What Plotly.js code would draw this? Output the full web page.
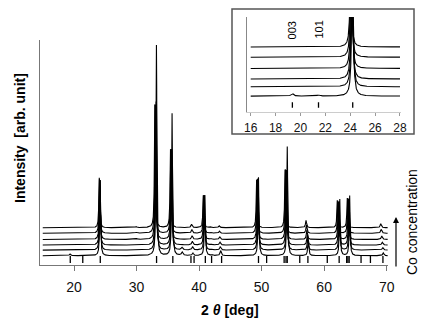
<!DOCTYPE html>
<html>
<head>
<meta charset="utf-8">
<script src="https://cdn.plot.ly/plotly-3.0.1.min.js"></script>
<style>html,body{margin:0;padding:0;background:#fff;}#chart{width:436px;height:327px;}</style>
</head>
<body>
<div id="chart"></div>
<script>
// ---- data ----
// reflection positions (2theta, deg) for the lowest-Co pattern
const peakPos = [19.35, 21.45, 24.18, 30.1, 33.18, 35.68, 37.3, 39.0, 40.92, 42.0, 43.45, 49.5, 54.1, 57.45, 62.5, 64.08, 69.45];
// peak half widths (deg)
const peakWidth = [0.12, 0.12, 0.08, 0.15, 0.08, 0.08, 0.15, 0.12, 0.08, 0.12, 0.12, 0.08, 0.08, 0.1, 0.08, 0.08, 0.12];
// peak shift of the highest-Co pattern relative to the lowest (deg)
const peakShiftTop = [-0.1, -0.1, -0.14, -0.15, -0.25, -0.25, -0.2, -0.2, -0.25, -0.2, -0.25, -0.3, -0.35, -0.35, -0.4, -0.38, -0.4];
// peak heights per pattern (bottom = lowest Co ... top = highest Co), arb. units
const heights0 = [0.3, 0.12, 13.5, 0.03, 37.6, 25.4, 0.6, 0.45, 10.8, 0.2, 0.9, 14.0, 19.5, 2.6, 10.1, 10.7, 0.5];
const heights1 = [0.08, 0.05, 12.5, 0.08, 26.5, 18.0, 0.45, 0.6, 9.8, 0.2, 0.6, 12.8, 14.2, 2.2, 8.7, 9.2, 0.45];
const heights2 = [0.05, 0.03, 11.5, 0.12, 25.0, 17.0, 0.12, 0.65, 8.8, 0.2, 0.5, 11.8, 13.4, 1.9, 7.7, 8.2, 0.5];
const heights3 = [0.04, 0.02, 10.5, 0.15, 24.0, 16.0, 0.08, 0.65, 7.8, 0.2, 0.45, 10.8, 12.4, 1.7, 6.7, 7.2, 0.6];
const heights4 = [0.03, 0.02, 9.7, 0.18, 23.0, 15.0, 0.05, 0.65, 6.8, 0.2, 0.4, 9.6, 11.4, 1.5, 5.8, 6.3, 0.7];
const heights5 = [0.03, 0.02, 8.9, 0.18, 22.0, 14.0, 0.05, 0.6, 5.8, 0.2, 0.35, 8.5, 10.4, 1.3, 4.9, 5.3, 0.7];
// fraction of the full shift for each pattern
const shiftFraction = [0, 0.2, 0.4, 0.6, 0.8, 1.0];
// vertical offsets of the stacked patterns
const mainOffsets = [0, 1.0, 1.9, 2.9, 4.0, 5.0];
const insetOffsets = [0, 1.04, 1.91, 3.08, 4.33, 5.47];
// reference reflection markers
const refTicks = [19.4, 21.4, 24.2, 33.2, 35.8, 38.7, 39.2, 41.0, 42.0, 43.6, 49.5, 50.8, 53.6, 53.9, 54.1, 56.1, 57.4, 60.5, 62.4, 63.6, 63.8, 64.0, 65.9, 67.4, 69.4];
const insetTicks = [19.35, 21.45, 24.2];
const mainTicks = [20, 30, 40, 50, 60, 70];
const insetTickVals = [16, 18, 20, 22, 24, 26, 28];
const insetLabels = ['003', '101'];
const insetLabelPos = [19.35, 21.45];

const heights = [heights0, heights1, heights2, heights3, heights4, heights5];

function pattern(k, x0, x1) {
  const xs = [], ys = [];
  for (let i = 0; x0 + i * 0.01 <= x1 + 1e-9; i++) {
    const x = x0 + i * 0.01;
    let y = 0;
    for (let j = 0; j < peakPos.length; j++) {
      const d = x - (peakPos[j] + peakShiftTop[j] * shiftFraction[k]);
      const g = peakWidth[j];
      y += heights[k][j] * g * g / (d * d + g * g);
    }
    xs.push(x); ys.push(y);
  }
  return [xs, ys];
}

const traces = [];
for (let k = 0; k < 6; k++) {
  const [xs, ys] = pattern(k, 15.0, 70.15);
  traces.push({x: xs, y: ys.map(v => v + mainOffsets[k]), type: 'scatter', mode: 'lines',
    line: {color: '#000', width: 1.1}, xaxis: 'x', yaxis: 'y', hoverinfo: 'skip'});
  const [xi, yi] = pattern(k, 16.0, 28.0);
  traces.push({x: xi, y: yi.map(v => v + insetOffsets[k]), type: 'scatter', mode: 'lines',
    line: {color: '#000', width: 1.1}, xaxis: 'x2', yaxis: 'y2', hoverinfo: 'skip'});
}
traces.push({x: refTicks, y: refTicks.map(() => -0.68), type: 'scatter', mode: 'markers',
  marker: {symbol: 'line-ns', size: 5, line: {color: '#000', width: 1.3}}, xaxis: 'x', yaxis: 'y', hoverinfo: 'skip'});
traces.push({x: insetTicks, y: insetTicks.map(() => -0.98), type: 'scatter', mode: 'markers',
  marker: {symbol: 'line-ns', size: 4, line: {color: '#000', width: 1.3}}, xaxis: 'x2', yaxis: 'y2', hoverinfo: 'skip'});

const font = '"Liberation Sans", Arial, sans-serif';
const px = v => (v - 40) / 386;
const py = v => (265 - v) / 260;

const annotations = [
  {text: '<b>Intensity  [arb. unit]</b>', xref: 'paper', yref: 'paper', x: px(20), y: py(138), textangle: -90,
   xanchor: 'center', yanchor: 'middle', showarrow: false, font: {family: font, size: 14, color: '#000'}},
  {text: '<b>2 <i>θ</i> [deg]</b>', xref: 'paper', yref: 'paper', x: px(230), y: py(310),
   xanchor: 'center', yanchor: 'middle', showarrow: false, font: {family: font, size: 14, color: '#000'}},
  {text: 'Co concentration', xref: 'paper', yref: 'paper', x: px(412), y: py(222), textangle: -90,
   xanchor: 'center', yanchor: 'middle', showarrow: false, font: {family: font, size: 14, color: '#000'}},
  {text: '', xref: 'paper', yref: 'paper', x: px(396), y: py(217), ax: 0, ay: 51,
   showarrow: true, arrowhead: 2, arrowsize: 1, arrowwidth: 1.2, arrowcolor: '#000'}
];
for (let i = 0; i < insetLabels.length; i++) {
  annotations.push({text: insetLabels[i], xref: 'x2', yref: 'paper', x: insetLabelPos[i], y: py(30), textangle: -90,
    xanchor: 'center', yanchor: 'middle', showarrow: false, font: {family: font, size: 11, color: '#000'}});
}

const layout = {
  width: 436, height: 327,
  margin: {l: 40, r: 10, t: 5, b: 62},
  paper_bgcolor: '#fff', plot_bgcolor: 'rgba(0,0,0,0)',
  showlegend: false,
  font: {family: font, color: '#000'},
  xaxis: {domain: [0, 0.90155], range: [14.56, 70.21], tickvals: mainTicks, showgrid: false, zeroline: false,
    showline: true, linecolor: '#777', linewidth: 1, ticks: 'outside', ticklen: 5, tickcolor: '#777',
    tickfont: {family: font, size: 14, color: '#111'}, ticklabelstandoff: 4, anchor: 'y'},
  yaxis: {domain: [0, 0.86538], range: [-1.66, 38.52], showgrid: false, zeroline: false, showticklabels: false,
    showline: true, linecolor: '#777', linewidth: 1, ticks: '', anchor: 'x'},
  xaxis2: {domain: [0.53756, 0.93394], range: [15.743, 28.04], tickvals: insetTickVals, showgrid: false, zeroline: false,
    showline: true, linecolor: '#ccc', linewidth: 1, ticks: 'outside', ticklen: 3, tickcolor: '#999',
    tickfont: {family: font, size: 12, color: '#111'}, ticklabelstandoff: 2, anchor: 'y2'},
  yaxis2: {domain: [0.58846, 0.95385], range: [-1.756, 8.8], showgrid: false, zeroline: false, showticklabels: false,
    showline: true, linecolor: '#888', linewidth: 1, ticks: '', anchor: 'x2'},
  shapes: [{type: 'rect', xref: 'paper', yref: 'paper', x0: px(232), x1: px(414), y0: py(134), y1: py(9),
    line: {color: '#555', width: 1.5}, fillcolor: 'rgba(0,0,0,0)'}],
  annotations: annotations
};

Plotly.newPlot('chart', traces, layout, {staticPlot: true});
</script>
</body>
</html>
